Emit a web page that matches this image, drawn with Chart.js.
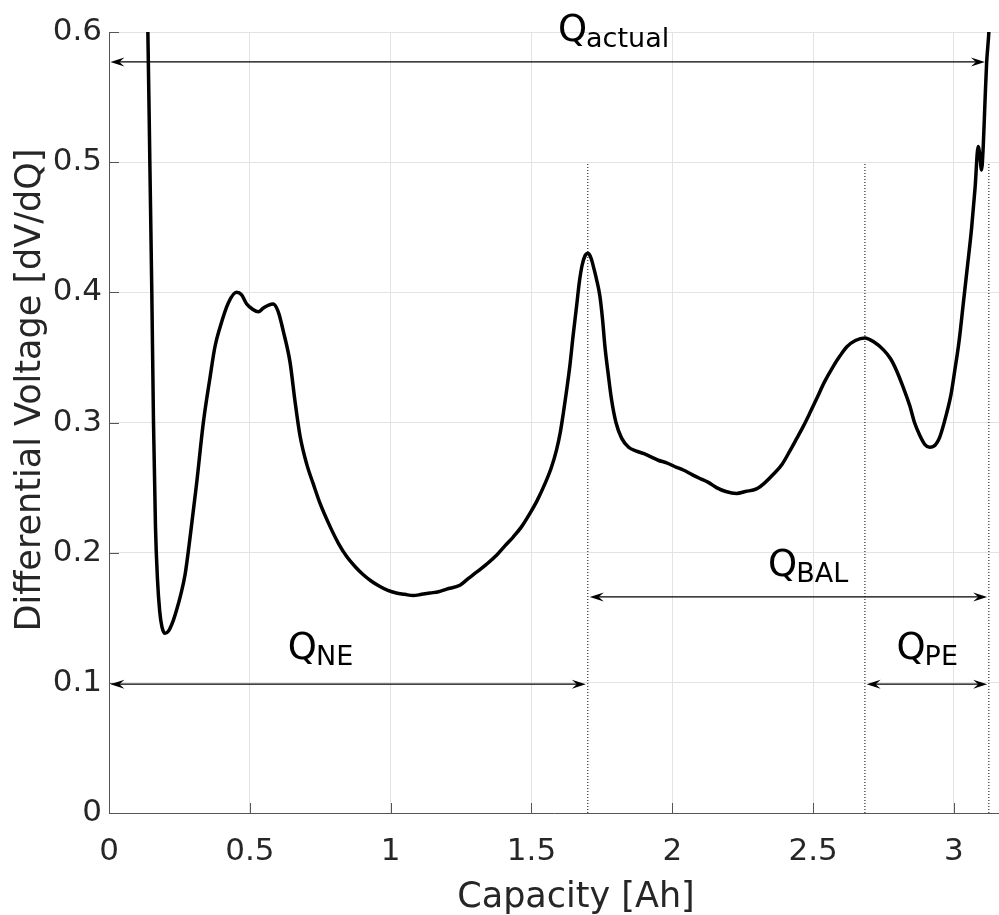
<!DOCTYPE html>
<html>
<head>
<meta charset="utf-8">
<script src="https://cdn.jsdelivr.net/npm/chart.js@4"></script>
<style>
  html, body { margin: 0; padding: 0; background: #fff; }
  #wrap { width: 999px; height: 915px; }
</style>
</head>
<body>
<div id="wrap"><canvas id="dvaChart" width="999" height="915"></canvas></div>
<script>
// differential voltage curve
const capacity = [0.130, 0.138, 0.145, 0.152, 0.158, 0.165, 0.172, 0.180, 0.188, 0.199, 0.212, 0.225, 0.240, 0.255, 0.270, 0.288, 0.311, 0.335, 0.359, 0.376, 0.394, 0.424, 0.453, 0.471, 0.489, 0.510, 0.530, 0.548, 0.565, 0.583, 0.601, 0.619, 0.643, 0.660, 0.678, 0.702, 0.725, 0.749, 0.785, 0.815, 0.844, 0.875, 0.903, 0.932, 0.962, 0.990, 1.020, 1.050, 1.080, 1.110, 1.140, 1.170, 1.199, 1.246, 1.275, 1.305, 1.340, 1.376, 1.405, 1.435, 1.465, 1.494, 1.520, 1.548, 1.570, 1.589, 1.602, 1.613, 1.625, 1.636, 1.648, 1.660, 1.670, 1.680, 1.690, 1.701, 1.712, 1.722, 1.731, 1.743, 1.752, 1.761, 1.772, 1.784, 1.800, 1.820, 1.845, 1.873, 1.900, 1.920, 1.950, 1.980, 2.010, 2.039, 2.070, 2.098, 2.128, 2.157, 2.190, 2.228, 2.260, 2.299, 2.330, 2.358, 2.390, 2.417, 2.440, 2.465, 2.490, 2.512, 2.540, 2.571, 2.595, 2.619, 2.650, 2.684, 2.715, 2.749, 2.775, 2.796, 2.820, 2.843, 2.860, 2.879, 2.897, 2.914, 2.930, 2.950, 2.974, 2.990, 3.003, 3.018, 3.033, 3.048, 3.063, 3.075, 3.086, 3.092, 3.098, 3.104, 3.110, 3.116, 3.124, 3.132];
const dvdq = [0.660, 0.600, 0.500, 0.400, 0.300, 0.220, 0.180, 0.155, 0.143, 0.138, 0.140, 0.146, 0.156, 0.168, 0.183, 0.212, 0.253, 0.300, 0.335, 0.358, 0.373, 0.392, 0.400, 0.398, 0.391, 0.387, 0.385, 0.388, 0.390, 0.391, 0.385, 0.370, 0.346, 0.317, 0.290, 0.268, 0.253, 0.238, 0.220, 0.207, 0.197, 0.189, 0.183, 0.178, 0.174, 0.171, 0.169, 0.168, 0.167, 0.168, 0.169, 0.170, 0.172, 0.175, 0.180, 0.185, 0.191, 0.198, 0.205, 0.212, 0.220, 0.230, 0.240, 0.253, 0.265, 0.279, 0.292, 0.307, 0.325, 0.343, 0.367, 0.389, 0.408, 0.421, 0.428, 0.430, 0.426, 0.418, 0.410, 0.397, 0.380, 0.358, 0.338, 0.318, 0.300, 0.288, 0.281, 0.278, 0.276, 0.274, 0.271, 0.269, 0.266, 0.2635, 0.260, 0.257, 0.254, 0.250, 0.247, 0.2455, 0.247, 0.249, 0.254, 0.260, 0.268, 0.278, 0.287, 0.297, 0.308, 0.318, 0.331, 0.343, 0.351, 0.358, 0.363, 0.365, 0.362, 0.356, 0.349, 0.340, 0.327, 0.313, 0.300, 0.290, 0.283, 0.281, 0.282, 0.289, 0.307, 0.322, 0.340, 0.362, 0.391, 0.420, 0.450, 0.480, 0.512, 0.505, 0.494, 0.512, 0.545, 0.576, 0.600, 0.640];

// dotted markers (x positions) running from 0 up to 0.5
const markerX = [1.70, 2.684, 3.124];
const markerTop = 0.5;

// double arrows: name, y, x start, x end
const arrowNames = ['actual', 'NE', 'BAL', 'PE'];
const arrowY = [0.577, 0.099, 0.166, 0.099];
const arrowFrom = [0.005, 0.005, 1.707, 2.690];
const arrowTo = [3.110, 1.693, 3.118, 3.118];

// label anchors (left edge of Q, baseline)
const labelX = [1.594, 0.635, 2.340, 2.796];
const labelY = [0.593, 0.118, 0.182, 0.118];

const xTitle = 'Capacity [Ah]';
const yTitle = 'Differential Voltage [dV/dQ]';

const FONT = '"DejaVu Sans", Verdana, sans-serif';

const curve = capacity.map((c, i) => ({ x: c, y: dvdq[i] }));
const markerSets = markerX.map(x => ({
  data: [{ x: x, y: 0 }, { x: x, y: markerTop }],
  borderColor: '#000',
  borderWidth: 1,
  borderDash: [1, 2],
  pointRadius: 0,
  fill: false
}));

function arrowHead(ctx, x, y, dir) {
  // dir = +1 points right, -1 points left
  ctx.beginPath();
  ctx.moveTo(x, y);
  ctx.lineTo(x - dir * 14, y - 4.5);
  ctx.lineTo(x - dir * 9, y);
  ctx.lineTo(x - dir * 14, y + 4.5);
  ctx.closePath();
  ctx.fill();
}

const annotations = {
  id: 'annotations',
  beforeDatasetsDraw(chart) {
    // inward tick marks like the original
    const { ctx, chartArea, scales } = chart;
    ctx.save();
    ctx.strokeStyle = '#555';
    ctx.lineWidth = 1;
    scales.x.ticks.forEach(t => {
      const px = Math.round(scales.x.getPixelForValue(t.value)) + 0.5;
      ctx.beginPath();
      ctx.moveTo(px, chartArea.bottom);
      ctx.lineTo(px, chartArea.bottom - 10);
      ctx.stroke();
    });
    scales.y.ticks.forEach(t => {
      const py = Math.round(scales.y.getPixelForValue(t.value)) + 0.5;
      ctx.beginPath();
      ctx.moveTo(chartArea.left, py);
      ctx.lineTo(chartArea.left + 10, py);
      ctx.stroke();
    });
    ctx.restore();
  },
  afterDatasetsDraw(chart) {
    const { ctx, scales } = chart;
    const xs = scales.x, ys = scales.y;
    ctx.save();
    ctx.strokeStyle = '#000';
    ctx.fillStyle = '#000';
    ctx.lineWidth = 1.3;
    arrowNames.forEach((name, i) => {
      const y = ys.getPixelForValue(arrowY[i]);
      const x1 = xs.getPixelForValue(arrowFrom[i]);
      const x2 = xs.getPixelForValue(arrowTo[i]);
      ctx.beginPath();
      ctx.moveTo(x1 + 6, y);
      ctx.lineTo(x2 - 6, y);
      ctx.stroke();
      arrowHead(ctx, x1, y, -1);
      arrowHead(ctx, x2, y, 1);

      // Q with subscript
      const lx = xs.getPixelForValue(labelX[i]);
      const ly = ys.getPixelForValue(labelY[i]);
      ctx.textAlign = 'left';
      ctx.textBaseline = 'alphabetic';
      ctx.font = '37px ' + FONT;
      ctx.fillText('Q', lx, ly);
      const qw = ctx.measureText('Q').width;
      ctx.font = '27px ' + FONT;
      ctx.fillText(name, lx + qw - 1, ly + 6);
    });
    ctx.restore();
  },
  afterDraw(chart) {
    const { ctx } = chart;
    ctx.save();
    ctx.fillStyle = '#262626';
    ctx.font = '35px ' + FONT;
    ctx.textAlign = 'center';
    ctx.textBaseline = 'alphabetic';
    ctx.fillText(xTitle, 576, 907);
    ctx.translate(40, 390);
    ctx.rotate(-Math.PI / 2);
    ctx.fillText(yTitle, 0, 0);
    ctx.restore();
  }
};

const fmt = v => String(parseFloat(Number(v).toFixed(2)));

const ctx = document.getElementById('dvaChart').getContext('2d');
new Chart(ctx, {
  type: 'line',
  data: {
    datasets: [{
      data: curve,
      borderColor: '#000',
      borderWidth: 3.5,
      pointRadius: 0,
      cubicInterpolationMode: 'monotone',
      fill: false,
      clip: 0
    }, ...markerSets]
  },
  options: {
    responsive: false,
    animation: false,
    events: [],
    layout: { padding: { top: 32, right: 0, left: 0, bottom: 0 } },
    plugins: {
      legend: { display: false },
      tooltip: { enabled: false }
    },
    scales: {
      x: {
        type: 'linear',
        min: 0,
        max: 3.16,
        afterFit(scale) { scale.height = 102; },
        grid: { color: '#e3e3e3', lineWidth: 1, drawTicks: false },
        border: { display: true, color: '#555', width: 1 },
        ticks: {
          stepSize: 0.5,
          includeBounds: false,
          padding: 20,
          color: '#262626',
          font: { family: FONT, size: 31 },
          callback: fmt
        }
      },
      y: {
        min: 0,
        max: 0.6,
        afterFit(scale) { scale.width = 109; },
        grid: { color: '#e3e3e3', lineWidth: 1, drawTicks: false },
        border: { display: true, color: '#555', width: 1 },
        ticks: {
          stepSize: 0.1,
          padding: 7,
          color: '#262626',
          font: { family: FONT, size: 31 },
          callback: fmt
        }
      }
    }
  },
  plugins: [annotations]
});
</script>
</body>
</html>
